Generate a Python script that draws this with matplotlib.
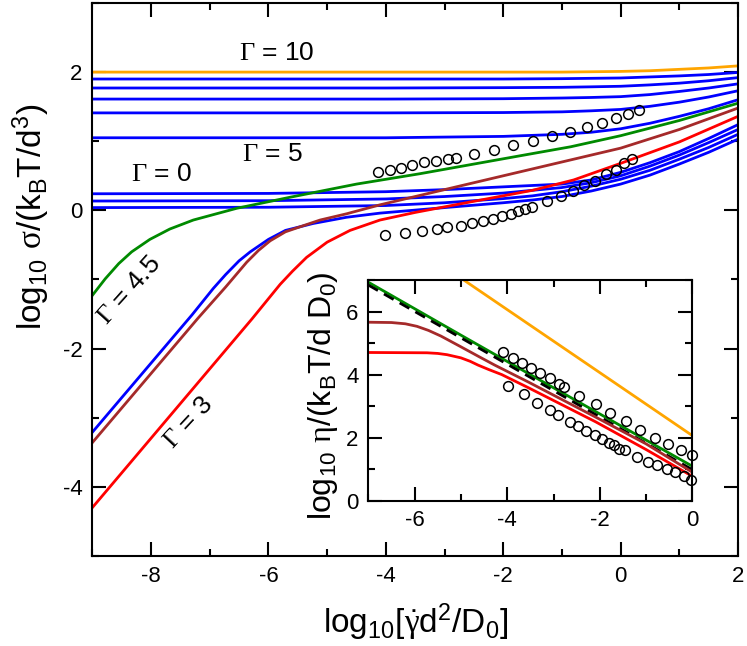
import numpy as np
import matplotlib.pyplot as plt
from matplotlib.ticker import MultipleLocator

plt.rcParams['font.family'] = 'Liberation Sans'
plt.rcParams['mathtext.fontset'] = 'custom'
plt.rcParams['mathtext.rm'] = 'Liberation Sans'
plt.rcParams['mathtext.it'] = 'Liberation Sans:italic'
plt.rcParams['mathtext.sf'] = 'Liberation Serif'
plt.rcParams['mathtext.default'] = 'regular'
plt.rcParams['axes.unicode_minus'] = False

# ---------------- main panel: log10 stress vs log10 shear rate ----------------
x_g10 = [-9, -1, 0, 0.5, 1, 1.5, 2]
y_g10 = [2.00, 2.00, 2.01, 2.02, 2.04, 2.06, 2.09]

# glassy curves (upper bundle)
x_up = [-9, -4, -2, -1, -0.5, 0, 0.5, 1, 1.5, 2]
y_up1 = [1.90, 1.90, 1.90, 1.905, 1.91, 1.915, 1.93, 1.945, 1.965, 1.995]
y_up2 = [1.77, 1.77, 1.775, 1.78, 1.787, 1.795, 1.815, 1.84, 1.875, 1.92]
y_up3 = [1.61, 1.61, 1.615, 1.625, 1.633, 1.645, 1.675, 1.72, 1.77, 1.83]
y_up4 = [1.41, 1.41, 1.415, 1.425, 1.44, 1.46, 1.505, 1.565, 1.64, 1.73]
y_up5 = [1.05, 1.05, 1.07, 1.10, 1.13, 1.18, 1.26, 1.36, 1.47, 1.60]

# lower bundle
x_lo = [-9, -6, -4, -3, -2, -1.5, -1, -0.5, 0, 0.5, 1, 1.5, 2]
y_lo1 = [0.24, 0.245, 0.27, 0.30, 0.34, 0.36, 0.38, 0.44, 0.55, 0.69, 0.85, 1.04, 1.24]
y_lo2 = [0.135, 0.14, 0.165, 0.20, 0.25, 0.29, 0.33, 0.40, 0.50, 0.64, 0.80, 0.98, 1.17]
y_lo3 = [0.04, 0.045, 0.07, 0.11, 0.17, 0.21, 0.27, 0.35, 0.45, 0.58, 0.74, 0.91, 1.10]

# fluid curves
x_blue = [-9, -7.3, -6.94, -6.73, -6.5, -6.31, -6.0, -5.71, -5.24, -4.67, -4.1, -3, -2, -1.5,
          -1, -0.5, 0, 0.5, 1, 1.5, 2]
y_blue = [-3.21, -1.51, -1.13, -0.93, -0.73, -0.60, -0.42, -0.29, -0.19, -0.10, -0.04, 0.04, 0.11, 0.15,
          0.20, 0.28, 0.38, 0.51, 0.67, 0.84, 1.03]

x_brown = [-9, -7.2, -6.73, -6.37, -6.17, -5.97, -5.71, -5.4, -5.12, -4.67, -4.1, -3, -2, -1, 0, 1, 2]
y_brown = [-3.36, -1.56, -1.11, -0.75, -0.58, -0.44, -0.31, -0.22, -0.14, -0.05, 0.08, 0.30, 0.50, 0.70, 0.90, 1.17, 1.48]

x_red = [-9, -6.28, -5.8, -5.59, -5.35, -5.0, -4.61, -4.1, -3.5, -2.57, -1.5, -0.8, 0, 1, 2]
y_red = [-4.30, -1.57, -1.07, -0.88, -0.68, -0.46, -0.29, -0.14, -0.03, 0.12, 0.29, 0.44, 0.68, 0.99, 1.36]

x_green = [-9, -8.78, -8.55, -8.33, -8.02, -7.68, -7.28, -6.54, -5.63, -4.5, -3.42, -1.71, -0.85, 0, 1, 2]
y_green = [-1.23, -0.99, -0.77, -0.60, -0.42, -0.27, -0.14, 0.03, 0.19, 0.38, 0.53, 0.79, 0.92, 1.08, 1.30, 1.55]

# experimental data (circles)
x_exp1 = [-4.13, -3.93, -3.74, -3.55, -3.35, -3.14, -2.94, -2.80, -2.49, -2.16,
          -1.83, -1.50, -1.17, -0.87, -0.57, -0.32, -0.08, 0.12, 0.31]
y_exp1 = [0.56, 0.59, 0.62, 0.65, 0.70, 0.72, 0.75, 0.76, 0.82, 0.88,
          0.95, 1.01, 1.08, 1.13, 1.20, 1.27, 1.33, 1.39, 1.45]
x_exp2 = [-4.01, -3.68, -3.38, -3.13, -2.95, -2.72, -2.54, -2.34, -2.17, -2.02, -1.87, -1.75,
          -1.63, -1.51, -1.25, -1.02, -0.82, -0.62, -0.44, -0.25, -0.08, 0.06, 0.19]
y_exp2 = [-0.36, -0.33, -0.30, -0.27, -0.245, -0.22, -0.18, -0.15, -0.12, -0.085, -0.05, -0.015,
          0.02, 0.055, 0.13, 0.21, 0.28, 0.36, 0.43, 0.52, 0.59, 0.68, 0.75]

# ---------------- inset: log10 viscosity ----------------
xi_orange = [-5.0, 0.0]
yi_orange = [7.06, 2.06]
xi_green = [-7, -5, -3, -1, 0]
yi_green = [6.93, 5.25, 3.58, 1.92, 1.09]
xi_dash = [-7, 0]
yi_dash = [6.84, 0.98]
xi_brown = [-7, -6.5, -6.2, -5.95, -5.7, -5.43, -5.0, -4.6, -4.27, -3.54, -2.09, -1, 0]
yi_brown = [5.66, 5.65, 5.61, 5.53, 5.40, 5.22, 4.88, 4.56, 4.30, 3.76, 2.65, 1.80, 0.90]
xi_red = [-7, -5.73, -5.5, -5.3, -5.0, -4.8, -4.63, -4.4, -4.12, -3.54, -2.09, -1, 0]
yi_red = [4.70, 4.69, 4.67, 4.63, 4.53, 4.42, 4.30, 4.16, 4.0, 3.58, 2.50, 1.62, 0.77]

xi_exp1 = [-4.09, -3.87, -3.69, -3.49, -3.29, -3.08, -2.89, -2.78, -2.44, -2.09,
           -1.78, -1.43, -1.13, -0.80, -0.52, -0.25, -0.01]
yi_exp1 = [4.70, 4.52, 4.37, 4.21, 4.05, 3.89, 3.71, 3.60, 3.33, 3.05,
           2.79, 2.52, 2.24, 2.00, 1.79, 1.61, 1.44]
xi_exp2 = [-3.98, -3.64, -3.35, -3.07, -2.90, -2.65, -2.47, -2.29, -2.11, -1.96, -1.80,
           -1.69, -1.58, -1.45, -1.20, -0.96, -0.76, -0.56, -0.38, -0.19, -0.03]
yi_exp2 = [3.65, 3.37, 3.10, 2.87, 2.73, 2.50, 2.37, 2.21, 2.07, 1.95, 1.84,
           1.77, 1.65, 1.60, 1.40, 1.24, 1.13, 1.00, 0.90, 0.79, 0.66]

c_orange = '#ffa500'
c_blue = '#0000ff'
c_green = '#008a00'
c_brown = '#a52a2a'
c_red = '#ff0000'
lw = 2.0


def style_axes(ax, fs):
    for s in ax.spines.values():
        s.set_linewidth(1.5)
    ax.tick_params(which='both', direction='in', top=True, right=True, width=1.5, labelsize=fs)
    ax.tick_params(which='major', length=10, pad=7)
    ax.tick_params(which='minor', length=5)


fig = plt.figure(figsize=(7.47, 6.46), dpi=100)
ax = fig.add_axes([0.1236, 0.1393, 0.8644, 0.8561])

ax.plot(x_g10, y_g10, color=c_orange, lw=lw)
for yy in [y_up1, y_up2, y_up3, y_up4, y_up5]:
    ax.plot(x_up, yy, color=c_blue, lw=lw)
for yy in [y_lo1, y_lo2, y_lo3]:
    ax.plot(x_lo, yy, color=c_blue, lw=lw)
ax.plot(x_blue, y_blue, color=c_blue, lw=lw)
ax.plot(x_green, y_green, color=c_green, lw=lw)
ax.plot(x_brown, y_brown, color=c_brown, lw=lw)
ax.plot(x_red, y_red, color=c_red, lw=lw)
ax.plot(x_exp1, y_exp1, 'o', mfc='none', mec='black', ms=7, mew=1.1)
ax.plot(x_exp2, y_exp2, 'o', mfc='none', mec='black', ms=7, mew=1.1)

fs_ann = 19
ax.text(-5.85, 2.27, r'$\mathsf{\Gamma}$ = 10', ha='center', va='center', fontsize=fs_ann)
ax.text(-5.94, 0.82, r'$\mathsf{\Gamma}$ = 5', ha='center', va='center', fontsize=fs_ann)
ax.text(-7.83, 0.52, r'$\mathsf{\Gamma}$ = 0', ha='center', va='center', fontsize=fs_ann)
ax.text(-8.38, -1.16, r'$\mathsf{\Gamma}$ = 4.5', ha='center', va='center', fontsize=fs_ann,
        rotation=48, rotation_mode='anchor')
ax.text(-7.36, -3.07, r'$\mathsf{\Gamma}$ = 3', ha='center', va='center', fontsize=fs_ann,
        rotation=47, rotation_mode='anchor')

ax.set_xlim(-9, 2)
ax.set_ylim(-5, 3)
ax.xaxis.set_major_locator(MultipleLocator(2))
ax.xaxis.set_minor_locator(MultipleLocator(1))
ax.yaxis.set_major_locator(MultipleLocator(2))
ax.yaxis.set_minor_locator(MultipleLocator(1))
style_axes(ax, 16)
ax.set_xlabel(r'log$_{10}$[$\dot{\mathsf{\gamma}}$d$^2$/D$_0$]', fontsize=24)
ax.set_ylabel(r'log$_{10}$ $\mathsf{\sigma}$/(k$_B$T/d$^3$)', fontsize=24)
ax.xaxis.set_label_coords(0.5, -0.082)
ax.yaxis.set_label_coords(-0.062, 0.613)

# inset
axi = fig.add_axes([0.493, 0.225, 0.434, 0.3416])
axi.plot(xi_orange, yi_orange, color=c_orange, lw=lw)
axi.plot(xi_green, yi_green, color=c_green, lw=lw)
axi.plot(xi_dash, yi_dash, color='black', lw=lw, ls=(0, (4, 2.5)))
axi.plot(xi_brown, yi_brown, color=c_brown, lw=lw)
axi.plot(xi_red, yi_red, color=c_red, lw=lw)
axi.plot(xi_exp1, yi_exp1, 'o', mfc='none', mec='black', ms=7, mew=1.1, clip_on=False)
axi.plot(xi_exp2, yi_exp2, 'o', mfc='none', mec='black', ms=7, mew=1.1, clip_on=False)
axi.set_xlim(-7, 0)
axi.set_ylim(0, 7)
axi.xaxis.set_major_locator(MultipleLocator(2))
axi.xaxis.set_minor_locator(MultipleLocator(1))
axi.yaxis.set_major_locator(MultipleLocator(2))
axi.yaxis.set_minor_locator(MultipleLocator(1))
style_axes(axi, 16)
axi.set_ylabel(r'log$_{10}$ $\mathsf{\eta}$/(k$_B$T/d D$_0$)', fontsize=23)
axi.yaxis.set_label_coords(-0.087, 0.474)

fig.savefig('out.png', dpi=100)
